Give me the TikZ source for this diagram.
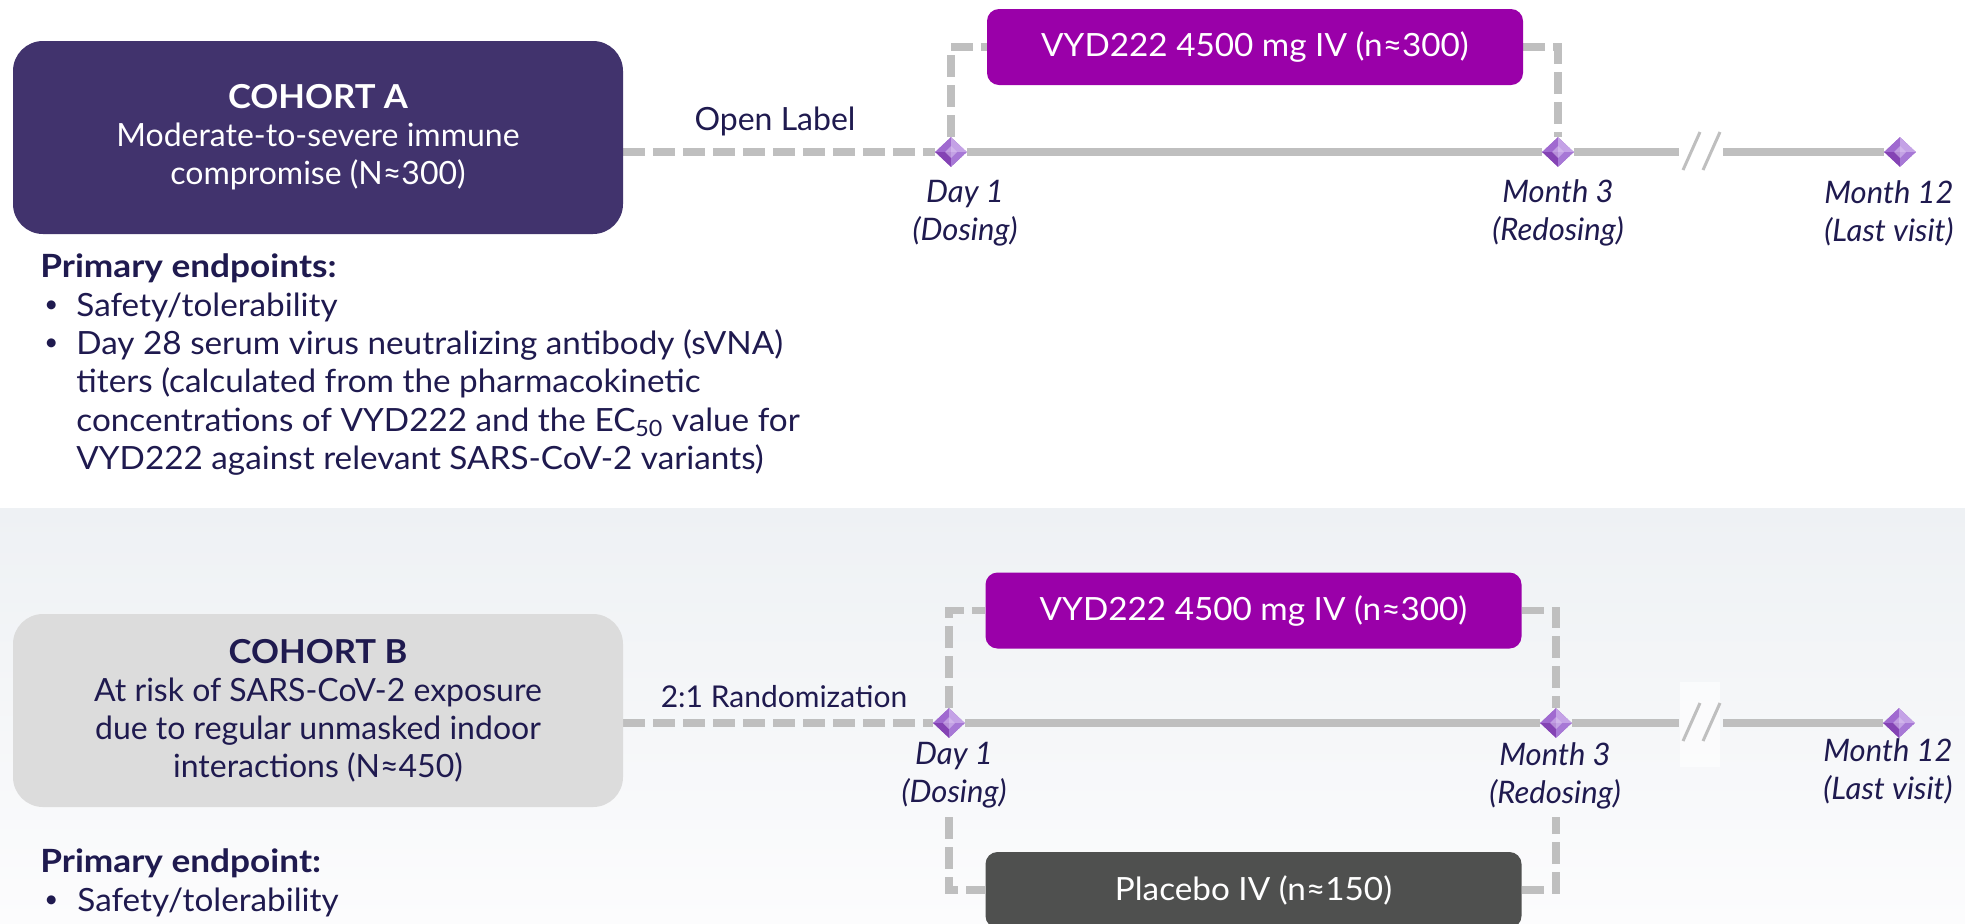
\documentclass[tikz,border=0pt]{standalone}
\usepackage{fontspec}
\setmainfont{Lato}
\newfontfamily\fwideA[FakeStretch=1.1]{Lato}
\newfontfamily\fwideB[FakeStretch=1.05]{Lato}
\newfontfamily\fwideC[FakeStretch=1.04]{Lato}
\usetikzlibrary{shapes.geometric,calc}
\definecolor{navy}{HTML}{1F1A4F}
\definecolor{cohA}{HTML}{41336D}
\definecolor{cohB}{HTML}{DCDCDC}
\definecolor{arm}{HTML}{9A00A9}
\definecolor{plac}{HTML}{4F504F}
\definecolor{lgray}{HTML}{BFBFBF}
\definecolor{bgtop}{HTML}{EEF1F4}
\definecolor{bgbot}{HTML}{FCFCFD}
\definecolor{gemNW}{HTML}{A06AD0}
\definecolor{gemNE}{HTML}{C4A2E6}
\definecolor{gemSW}{HTML}{8443B4}
\definecolor{gemSE}{HTML}{A778D6}
\definecolor{gemIn}{HTML}{D8C0EF}
\pgfdeclarelayer{bg}
\pgfsetlayers{bg,main}
\begin{document}
\begin{tikzpicture}[x=0.5pt,y=-0.5pt,
  base/.style={font=\fontsize{16pt}{19pt}\selectfont, text=navy, inner sep=0pt},
  body/.style={base, font=\fontsize{16pt}{19pt}\selectfont\fwideC},
  bullet/.style={base, font=\fontsize{12pt}{19pt}\selectfont},
  bold/.style={base, font=\fontsize{16pt}{19pt}\selectfont\fwideA\bfseries},
  tlabel/.style={base, font=\fontsize{15.5pt}{19pt}\selectfont\itshape, align=center},
  cohortbox/.style={base, font=\fontsize{16pt}{19pt}\selectfont, rounded corners=15pt, minimum width=305pt, minimum height=96.5pt, align=center},
  armbox/.style={base, font=\fontsize{16pt}{19pt}\selectfont\fwideC, text=white, rounded corners=6pt, minimum width=268pt, minimum height=38pt},
  tline/.style={line width=4pt, draw=lgray},
  dashline/.style={line width=3.75pt, draw=lgray, dash pattern=on 11pt off 4pt},
  brk/.style={line width=1.5pt, draw=lgray},
  gem/.style={diamond, inner sep=0pt, minimum width=16pt, minimum height=15pt, fill=gemNW,
    path picture={
      \fill[gemNW] (path picture bounding box.north) -- (path picture bounding box.center) -- (path picture bounding box.west) -- cycle;
      \fill[gemNE] (path picture bounding box.north) -- (path picture bounding box.center) -- (path picture bounding box.east) -- cycle;
      \fill[gemSW] (path picture bounding box.south) -- (path picture bounding box.center) -- (path picture bounding box.west) -- cycle;
      \fill[gemSE] (path picture bounding box.south) -- (path picture bounding box.center) -- (path picture bounding box.east) -- cycle;
      \fill[gemIn, opacity=0.6] ($(path picture bounding box.center)+(0,-6)$) -- ($(path picture bounding box.center)+(6,0)$) -- ($(path picture bounding box.center)+(0,6)$) -- ($(path picture bounding box.center)+(-6,0)$) -- cycle;
    }},
]
\useasboundingbox (0,0) rectangle (1965,923);
\clip (0,0) rectangle (1965,923);

% ---------- Cohort A ----------
\node[cohortbox, fill=cohA, text=white] (ca) at (318,137.5)
  {{\fontsize{16.5pt}{19pt}\fwideB\bfseries COHORT A}\\Moderate-to-severe immune\\compromise (N≈300)};
\node[armbox, fill=arm] (ta) at (1255,47) {VYD222 4500 mg IV (n≈300)};
\node[gem] (d1a) at (951,152) {};
\node[gem] (m3a) at (1558,152) {};
\node[gem] (m12a) at (1900,152) {};
\coordinate (ba1) at (1679,152);
\coordinate (ba2) at (1723,152);
\node[base] (ola) at (775,121) {Open Label};
\node[tlabel] (la1) at (965,213) {Day 1\\(Dosing)};
\node[tlabel] (la3) at (1558,213) {Month 3\\(Redosing)};
\node[tlabel] (la12) at (1889,213) {Month 12\\(Last visit)};

\node[bold, anchor=west] (pea) at (40,268) {Primary endpoints:};
\node[bullet, anchor=west] (bua1) at (44,307) {•};
\node[bullet, anchor=west] (bua2) at (44,345) {•};
\node[body, anchor=west] (tea1) at (76,307) {Safety/tolerability};
\node[body, anchor=west] (tea2) at (76,345) {Day 28 serum virus neutralizing antibody (sVNA)};
\node[body, anchor=west] (tea3) at (76,383) {titers (calculated from the pharmacokinetic};
\node[body, anchor=west] (tea4) at (76,422) {concentrations of VYD222 and the EC\textsubscript{50} value for};
\node[body, anchor=west] (tea5) at (76,460) {VYD222 against relevant SARS-CoV-2 variants)};

% ---------- Cohort B ----------
\node[cohortbox, fill=cohB] (cb) at (318,710.5)
  {{\fontsize{16.5pt}{19pt}\fwideB\bfseries COHORT B}\\At risk of SARS-CoV-2 exposure\\due to regular unmasked indoor\\interactions (N≈450)};
\node[armbox, fill=arm] (tb) at (1253.5,610.5) {VYD222 4500 mg IV (n≈300)};
\node[armbox, fill=plac] (pb) at (1253.5,890) {Placebo IV (n≈150)};
\node[gem] (d1b) at (949,723) {};
\node[gem] (m3b) at (1556,723) {};
\node[gem] (m12b) at (1899,723) {};
\coordinate (bb1) at (1679,723);
\coordinate (bb2) at (1723,723);
\coordinate (lb1) at (949,817);
\coordinate (lb3) at (1556,817);
\node[base, font=\fontsize{15pt}{19pt}\selectfont] (rnb) at (784,697) {2:1 Randomization};
\node[tlabel] (lb1t) at (954,775) {Day 1\\(Dosing)};
\node[tlabel] (lb3t) at (1555,776) {Month 3\\(Redosing)};
\node[tlabel] (lb12t) at (1888,771) {Month 12\\(Last visit)};

\node[bold, anchor=west] (peb) at (40,863) {Primary endpoint:};
\node[bullet, anchor=west] (bub1) at (44,902) {•};
\node[body, anchor=west] (teb1) at (77,902) {Safety/tolerability};

\begin{pgfonlayer}{bg}
  \fill[white] (0,0) rectangle (1965,508);
  \shade[top color=bgtop, bottom color=bgbot] (0,508) rectangle (1965,923);
  \fill[white, opacity=0.6] (1680,682) rectangle (1720,767);
  % cohort A timeline
  \draw[dashline] (ca.east |- d1a) -- (d1a.west);
  \draw[tline] (d1a) -- (m3a) -- (ba1);
  \draw[tline] (ba2) -- (m12a);
  \draw[brk] ($(ba1)+(4,18)$) -- ($(ba1)+(21,-20)$);
  \draw[brk] ($(ba1)+(24,18)$) -- ($(ba1)+(41,-20)$);
  \draw[dashline] (d1a.north) |- (ta.west);
  \draw[dashline] (ta.east) -| (m3a.north);
  % cohort B timeline
  \draw[dashline] (cb.east |- d1b) -- (d1b.west);
  \draw[tline] (d1b) -- (m3b) -- (bb1);
  \draw[tline] (bb2) -- (m12b);
  \draw[brk] ($(bb1)+(4,18)$) -- ($(bb1)+(21,-20)$);
  \draw[brk] ($(bb1)+(24,18)$) -- ($(bb1)+(41,-20)$);
  \draw[dashline] (d1b.north) |- (tb.west);
  \draw[dashline] (tb.east) -| (m3b.north);
  \draw[dashline] (lb1) |- (pb.west);
  \draw[dashline] (pb.east) -| (lb3);
\end{pgfonlayer}
\end{tikzpicture}
\end{document}
